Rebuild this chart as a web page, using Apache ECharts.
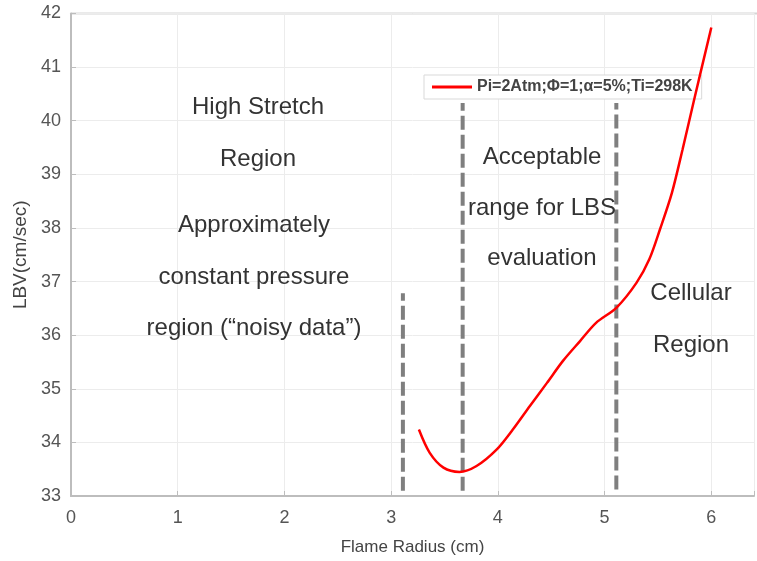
<!DOCTYPE html>
<html>
<head>
<meta charset="utf-8">
<script src="https://cdn.jsdelivr.net/npm/echarts@6/dist/echarts.min.js"></script>
<style>
  html, body { margin: 0; padding: 0; background: #fff; }
  #chart { width: 757px; height: 561px; }
</style>
</head>
<body>
<div id="chart"></div>
<script>
// LBV curve
const radius = [3.26, 3.36, 3.49, 3.64, 3.80, 3.99, 4.14, 4.30, 4.46, 4.61, 4.77, 4.92, 5.11, 5.30, 5.42, 5.52, 5.63, 5.73, 5.84, 6.00];
const lbv = [34.24, 33.81, 33.53, 33.45, 33.56, 33.87, 34.24, 34.68, 35.11, 35.52, 35.89, 36.23, 36.51, 36.98, 37.42, 37.98, 38.65, 39.46, 40.40, 41.74];

// dashed region dividers
const dividerX = [3.11, 3.67, 5.11];
const dividerTop = [36.78, 40.33, 40.33];
const dividerBottom = [33.1, 33.1, 33.12];

const seriesName = 'Pi=2Atm;\u03A6=1;\u03B1=5%;Ti=298K';

const chart = echarts.init(document.getElementById('chart'));

const curve = radius.map((r, i) => [r, lbv[i]]);

const dividers = dividerX.map((x, i) => ({
  type: 'line',
  data: [[x, dividerBottom[i]], [x, dividerTop[i]]],
  symbol: 'none',
  silent: true,
  lineStyle: { color: '#7f7f7f', width: 4, type: [14, 5] },
  z: 3
}));

// annotation text
const fontFam = '"Liberation Sans", Arial, sans-serif';
function note(text, x, y) {
  return {
    type: 'text',
    x: x, y: y,
    style: {
      text: text,
      font: '24px ' + fontFam,
      fill: '#333',
      align: 'center',
      verticalAlign: 'middle'
    },
    z: 10
  };
}

const option = {
  animation: false,
  grid: { left: 71, top: 13.5, right: 2.6, bottom: 64.3, show: false },
  legend: {
    data: [seriesName],
    left: 424,
    top: 75,
    itemWidth: 40,
    itemHeight: 3,
    itemGap: 8,
    padding: [4, 9, 4, 8],
    borderColor: '#d9d9d9',
    borderWidth: 1,
    backgroundColor: '#fff',
    icon: 'rect',
    textStyle: { fontSize: 16, color: '#444', fontFamily: fontFam, fontWeight: 'bold' }
  },
  xAxis: {
    type: 'value',
    min: 0, max: 6.4, interval: 1,
    name: 'Flame Radius (cm)',
    nameLocation: 'middle',
    nameGap: 43,
    nameTextStyle: { fontSize: 17, color: '#444', fontFamily: fontFam },
    axisLine: { show: true, lineStyle: { color: '#bdbdbd', width: 2 } },
    axisTick: { show: true, inside: true, length: 5, lineStyle: { color: '#bdbdbd' } },
    axisLabel: {
      fontSize: 18, color: '#555', fontFamily: fontFam, margin: 13,
      formatter: v => (Number.isInteger(v) ? String(v) : '')
    },
    splitLine: { show: true, lineStyle: { color: '#ececec', width: 1 } }
  },
  yAxis: {
    type: 'value',
    min: 33, max: 42, interval: 1,
    name: 'LBV(cm/sec)',
    nameLocation: 'middle',
    nameGap: 38,
    nameTextStyle: { fontSize: 19, color: '#444', fontFamily: fontFam },
    axisLine: { show: true, lineStyle: { color: '#bdbdbd', width: 2 } },
    axisTick: { show: true, inside: true, length: 5, lineStyle: { color: '#bdbdbd' } },
    axisLabel: { fontSize: 18, color: '#555', fontFamily: fontFam, margin: 10 },
    splitLine: { show: true, lineStyle: { color: '#ececec', width: 1 } }
  },
  graphic: [
    // top border of the axes box
    { type: 'line', shape: { x1: 71, y1: 13.5, x2: 757, y2: 13.5 }, style: { stroke: '#d6d6d6', lineWidth: 2 } },
    note('High Stretch', 258, 107),
    note('Region', 258, 159),
    note('Approximately', 254, 225),
    note('constant pressure', 254, 277),
    note('region (\u201Cnoisy data\u201D)', 254, 328),
    note('Acceptable', 542, 157),
    note('range for LBS', 542, 208),
    note('evaluation', 542, 258),
    note('Cellular', 691, 293),
    note('Region', 691, 345)
  ],
  series: [
    {
      name: seriesName,
      type: 'line',
      data: curve,
      smooth: 0.3,
      symbol: 'none',
      lineStyle: { color: '#ff0000', width: 2.5 },
      itemStyle: { color: '#ff0000' },
      z: 4
    }
  ].concat(dividers)
};

chart.setOption(option);
</script>
</body>
</html>
